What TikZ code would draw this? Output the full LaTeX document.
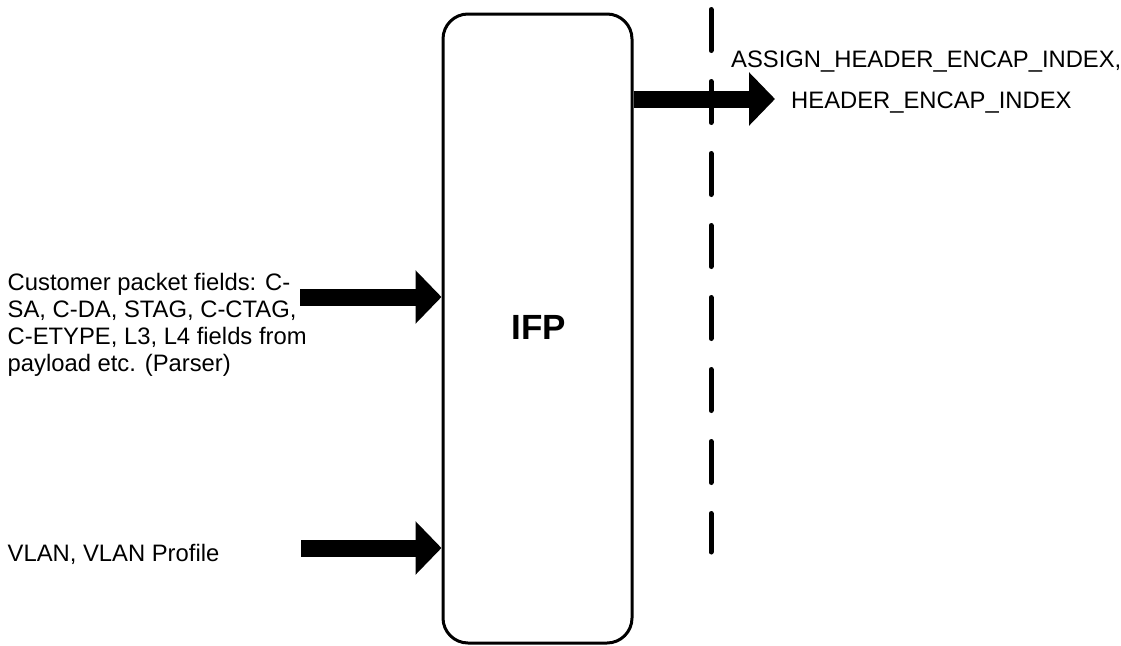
\documentclass[tikz,border=0pt]{standalone}
\usepackage{fontspec}
\setmainfont{Liberation Sans}
\usetikzlibrary{arrows.meta}
\begin{document}
\begin{tikzpicture}[x=1pt,y=-1pt,
  lbl/.style={inner sep=0pt, font=\fontsize{23.8}{27}\selectfont},
  blockarrow/.style={line width=17pt, -{Triangle[length=26pt,width=52pt]}},
  boundary/.style={line width=5pt, line cap=round, dash pattern=on 41pt off 31pt}]
\useasboundingbox (0,0) rectangle (1121,645);
% IFP box
\node[draw, line width=3pt, rounded corners=25pt, minimum width=189pt, minimum height=629pt,
      inner sep=0pt] (ifp) at (537.5,328.5) {};
\node[inner sep=0pt, font=\fontsize{35}{40}\selectfont\bfseries] (ifplbl) at (538.5,327) {IFP};
% boundary
\coordinate (btop) at (711,9.5);
\coordinate (bbot) at (711,552);
\draw[boundary] (btop) -- (bbot);
% output arrow
\coordinate (outS) at (ifp.east |- 0,99);
\coordinate (outE) at (775,99);
\draw[blockarrow] (outS) -- (outE);
\node[lbl, anchor=west] (out1) at (731,62) {ASSIGN\_HEADER\_ENCAP\_INDEX,};
\node[lbl, anchor=west] (out2) at (791,103) {HEADER\_ENCAP\_INDEX};
% input 1
\coordinate (in1S) at (300,297);
\coordinate (in1E) at (ifp.west |- 0,297);
\draw[blockarrow] (in1S) -- (in1E);
\node[lbl, anchor=west, align=left] (in1lbl) at (7.5,324.5)
  {Customer packet fields: C-\\SA, C-DA, STAG, C-CTAG,\\C-ETYPE, L3, L4 fields from\\payload etc. (Parser)};
% input 2
\coordinate (in2S) at (301,548);
\coordinate (in2E) at (ifp.west |- 0,548);
\draw[blockarrow] (in2S) -- (in2E);
\node[lbl, anchor=west] (in2lbl) at (7.5,554) {VLAN, VLAN Profile};
\end{tikzpicture}
\end{document}
